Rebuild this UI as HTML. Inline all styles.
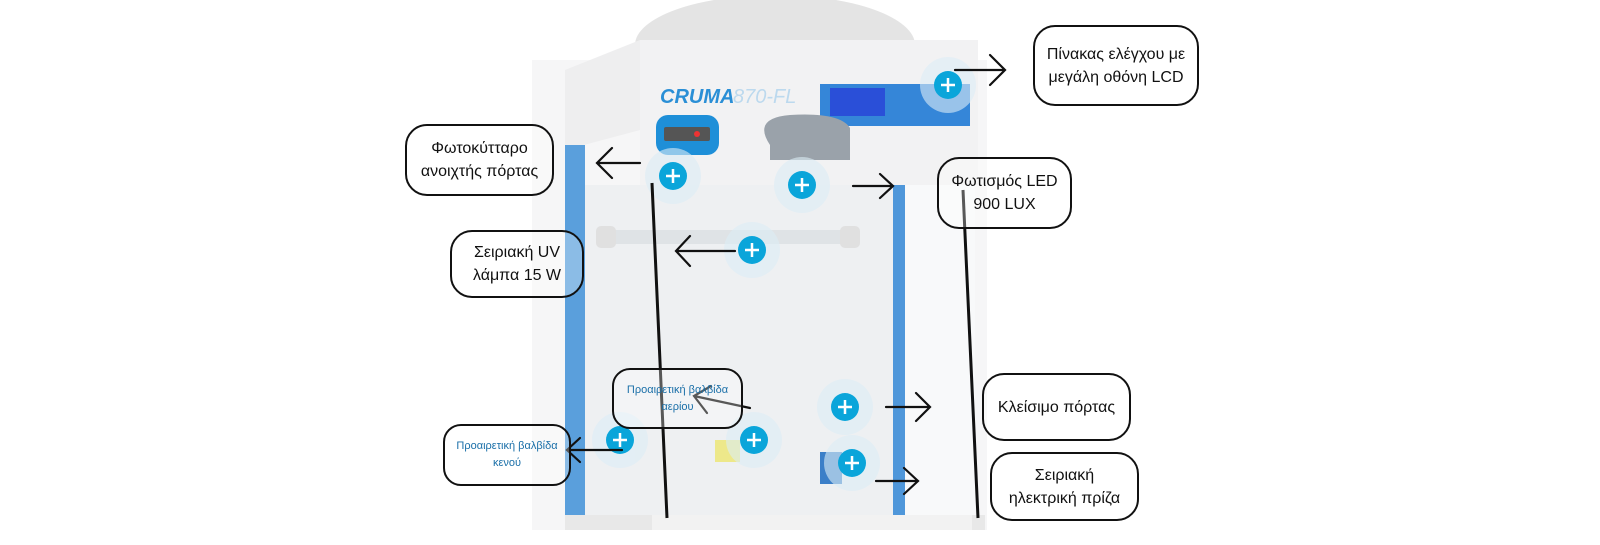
<!DOCTYPE html>
<html><head><meta charset="utf-8"><style>
body{margin:0;width:1600px;height:545px;background:#fff;position:relative;overflow:hidden;font-family:"Liberation Sans","DejaVu Sans",sans-serif}
.b{position:absolute;border:2px solid #111;border-radius:22px;display:flex;align-items:center;justify-content:center;text-align:center;font-size:16px;line-height:23px;color:#111;background:rgba(255,255,255,0.3);box-sizing:border-box}
.s{font-size:11px;line-height:17px;color:#1a6fa8;border-radius:18px}
</style></head><body>
<svg width="1600" height="545" style="position:absolute;left:0;top:0">
<ellipse cx="775" cy="45" rx="140" ry="50" fill="#e4e4e4"/>
<rect x="532" y="60" width="455" height="470" fill="#f6f6f7"/>
<polygon points="565,70 640,40 640,130 565,150" fill="#eeeeef"/>
<rect x="640" y="40" width="338" height="145" fill="#f2f2f3"/>
<rect x="565" y="145" width="20" height="375" fill="#5a9fdc"/>
<rect x="585" y="185" width="308" height="335" fill="#eef0f2"/>
<rect x="893" y="185" width="12" height="335" fill="#4f97da"/>
<rect x="905" y="185" width="70" height="335" fill="#f8f9fa"/>
<rect x="565" y="515" width="420" height="15" fill="#e8e8e8"/>
<rect x="652" y="515" width="320" height="15" fill="#f2f2f2"/>
<text x="660" y="103" font-size="20" font-style="italic" font-weight="bold" fill="#2a8fd6" font-family="Liberation Sans">CRUMA</text>
<text x="733" y="103" font-size="20" font-style="italic" fill="#bcd9ee" font-family="Liberation Sans">870-FL</text>
<rect x="820" y="84" width="150" height="42" fill="#3586d8"/>
<rect x="830" y="88" width="55" height="28" fill="#2a4fd8"/>
<rect x="656" y="115" width="63" height="40" rx="12" fill="#1e8fd8"/>
<rect x="664" y="127" width="46" height="14" rx="2" fill="#555"/>
<circle cx="697" cy="134" r="3" fill="#e33"/>
<path d="M770 145 Q752 118 790 115 Q840 112 850 128 L850 160 L770 160Z" fill="#9aa2aa"/>
<rect x="600" y="230" width="260" height="14" rx="7" fill="#dfe3e6"/>
<rect x="596" y="226" width="20" height="22" rx="5" fill="#e0e0e0"/>
<rect x="840" y="226" width="20" height="22" rx="5" fill="#e0e0e0"/>
<rect x="820" y="452" width="22" height="32" fill="#3b7fc8"/>
<rect x="715" y="440" width="25" height="22" fill="#ede88a"/>
<g fill="#dcedf6" opacity="0.6">
<circle cx="948" cy="85" r="28"/><circle cx="673" cy="176" r="28"/><circle cx="802" cy="185" r="28"/><circle cx="752" cy="250" r="28"/><circle cx="620" cy="440" r="28"/><circle cx="754" cy="440" r="28"/><circle cx="845" cy="407" r="28"/><circle cx="852" cy="463" r="28"/></g>
<g fill="#0aa5da">
<circle cx="948" cy="85" r="14"/><circle cx="673" cy="176" r="14"/><circle cx="802" cy="185" r="14"/><circle cx="752" cy="250" r="14"/><circle cx="620" cy="440" r="14"/><circle cx="754" cy="440" r="14"/><circle cx="845" cy="407" r="14"/><circle cx="852" cy="463" r="14"/></g>
<g stroke="#fff" stroke-width="2.5"><path d="M941 85h14M948 78v14M666 176h14M673 169v14M795 185h14M802 178v14M745 250h14M752 243v14M613 440h14M620 433v14M747 440h14M754 433v14M838 407h14M845 400v14M845 463h14M852 456v14"/></g>
<g stroke="#111" stroke-width="2.2" fill="none" stroke-linecap="round">
<path d="M955 70h50M990 55l15 15-15 15"/>
<path d="M640 163h-43M612 148l-15 15 15 15"/>
<path d="M853 186h40M880 174l13 12-13 12"/>
<path d="M735 251h-59M690 236l-14 15 14 15"/>
<path d="M750 408l-56-12M711 386l-17 10 13 17"/>
<path d="M622 450h-55M580 438l-13 12 13 12"/>
<path d="M886 407h44M916 393l14 14-14 14"/>
<path d="M876 481h42M904 468l14 13-14 13"/>
</g>
<g stroke="#111" stroke-width="3"><path d="M652 183L667 518M963 190L978 518"/></g>
</svg>
<div class="b" style="left:1033px;top:25px;width:166px;height:81px">Πίνακας ελέγχου με<br>μεγάλη οθόνη LCD</div>
<div class="b" style="left:405px;top:124px;width:149px;height:72px">Φωτοκύτταρο<br>ανοιχτής πόρτας</div>
<div class="b" style="left:937px;top:157px;width:135px;height:72px">Φωτισμός LED<br>900 LUX</div>
<div class="b" style="left:450px;top:230px;width:134px;height:68px">Σειριακή UV<br>λάμπα 15 W</div>
<div class="b s" style="left:612px;top:368px;width:131px;height:61px">Προαιρετική βαλβίδα<br>αερίου</div>
<div class="b" style="left:982px;top:373px;width:149px;height:68px">Κλείσιμο πόρτας</div>
<div class="b s" style="left:443px;top:424px;width:128px;height:62px">Προαιρετική βαλβίδα<br>κενού</div>
<div class="b" style="left:990px;top:452px;width:149px;height:69px">Σειριακή<br>ηλεκτρική πρίζα</div>
</body></html>
